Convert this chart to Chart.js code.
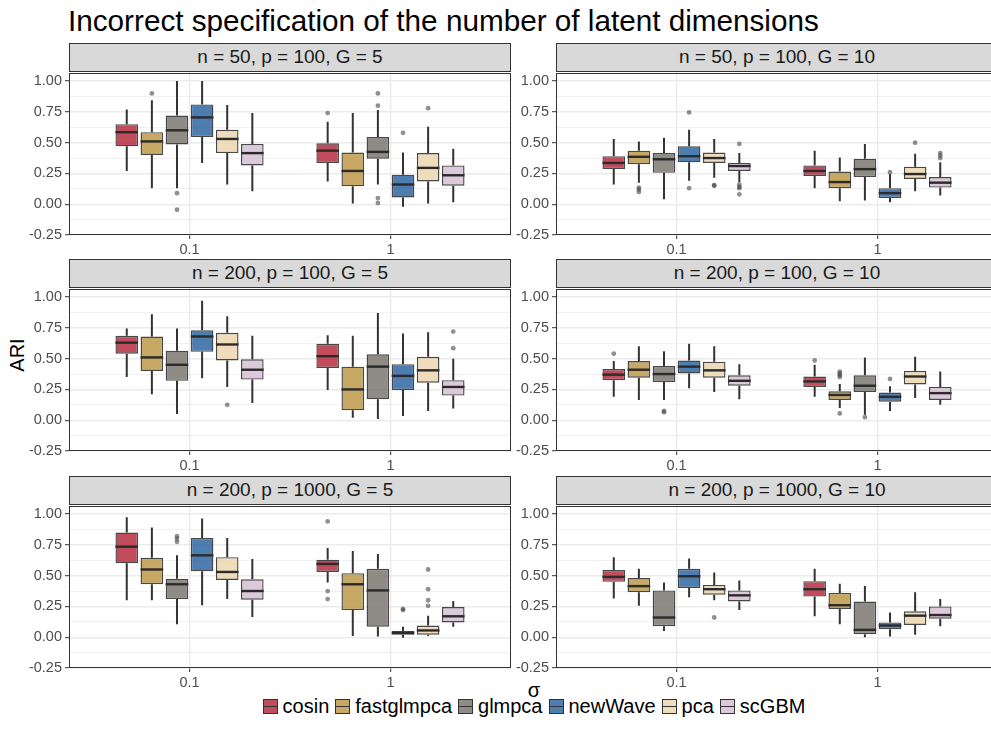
<!DOCTYPE html>
<html><head><meta charset="utf-8">
<script src="https://cdn.jsdelivr.net/npm/chart.js@4.4.0/dist/chart.umd.min.js"></script>
<style>
html,body{margin:0;padding:0;background:#fff;overflow:hidden;width:991px;height:745px;}
body{position:relative;font-family:"Liberation Sans",Arial,Helvetica,sans-serif;}
.strip{position:absolute;background:#D9D9D9;border:1px solid #333;box-sizing:border-box;text-align:center;font-size:19px;color:#1A1A1A;line-height:26px;white-space:nowrap;}
canvas{position:absolute;}
#title{position:absolute;left:68px;top:4px;font-size:29.7px;color:#000;white-space:nowrap;}
#ylab{position:absolute;left:17px;top:355px;transform:translate(-50%,-50%) rotate(-90deg);font-size:20px;color:#000;}
#xlab{position:absolute;left:534px;top:690px;transform:translate(-50%,-50%);font-size:20px;color:#000;}
#legend{position:absolute;left:68px;width:932px;top:694px;height:24px;display:flex;justify-content:center;align-items:center;font-size:20px;color:#000;}
.item{display:flex;align-items:center;margin:0 3px;}
.key{position:relative;width:15px;height:15px;border:1px solid #333;box-sizing:border-box;margin-right:5px;}
.key::after{content:"";position:absolute;left:0;right:0;top:6px;height:1.5px;background:#333;}
</style></head><body>
<div id="title">Incorrect specification of the number of latent dimensions</div>
<div id="ylab">ARI</div>
<div id="xlab">σ</div>
<div id="legend"></div>
<script>
const methods = ['cosin','fastglmpca','glmpca','newWave','pca','scGBM'];
const methodColors = ['rgba(184,52,70,0.88)','rgba(192,156,80,0.88)','rgba(127,123,116,0.88)','rgba(54,107,165,0.88)','rgba(236,215,177,0.88)','rgba(215,194,215,0.88)'];
const sigmaLabels = ['0.1','1'];
const sigmaPositions = [1, 2];
const yMajorTicks = [-0.25, 0, 0.25, 0.5, 0.75, 1.0];
const yMinorTicks = [-0.125, 0.125, 0.375, 0.625, 0.875];
const stripLabels = ['n = 50, p = 100, G = 5','n = 50, p = 100, G = 10','n = 200, p = 100, G = 5','n = 200, p = 100, G = 10','n = 200, p = 1000, G = 5','n = 200, p = 1000, G = 10'];

// box stats per method: [lower whisker, Q1, median, Q3, upper whisker]; first block σ = 0.1, second σ = 1
const box_n50_p100_G5 = [
  [[0.27,0.47,0.585,0.65,0.77],[0.13,0.40,0.51,0.585,0.845],[0.13,0.485,0.60,0.72,1.0],[0.335,0.545,0.705,0.81,1.0],[0.16,0.415,0.53,0.605,0.805],[0.105,0.315,0.415,0.49,0.74]],
  [[0.185,0.335,0.435,0.495,0.67],[0.005,0.145,0.27,0.42,0.74],[0.16,0.37,0.425,0.545,0.765],[-0.02,0.055,0.16,0.24,0.42],[0.005,0.185,0.295,0.415,0.63],[0.015,0.15,0.235,0.315,0.45]]
];
const out_n50_p100_G5 = [
  [[],[0.90],[0.09,-0.045],[],[],[]],
  [[0.74],[],[0.90,0.80,0.05,0.01],[0.58],[0.78],[]]
];
const box_n50_p100_G10 = [
  [[0.16,0.285,0.335,0.39,0.53],[0.175,0.325,0.385,0.435,0.51],[0.04,0.255,0.365,0.415,0.54],[0.19,0.34,0.39,0.47,0.605],[0.215,0.335,0.375,0.42,0.53],[0.18,0.27,0.31,0.335,0.415]],
  [[0.13,0.23,0.27,0.315,0.435],[0.025,0.13,0.18,0.265,0.38],[0.03,0.22,0.285,0.37,0.49],[0.015,0.05,0.09,0.13,0.245],[0.105,0.205,0.245,0.305,0.41],[0.07,0.135,0.175,0.22,0.34]]
];
const out_n50_p100_G10 = [
  [[],[0.135,0.12,0.10],[],[0.745,0.13],[0.155,0.15],[0.49,0.16,0.14,0.13,0.08]],
  [[],[],[],[0.26],[0.50],[0.415,0.395,0.375]]
];
const box_n200_p100_G5 = [
  [[0.35,0.54,0.63,0.685,0.745],[0.21,0.40,0.51,0.68,0.86],[0.05,0.32,0.45,0.565,0.745],[0.34,0.555,0.68,0.73,0.97],[0.27,0.485,0.615,0.71,0.845],[0.14,0.33,0.41,0.495,0.685]],
  [[0.245,0.425,0.52,0.62,0.69],[0.02,0.08,0.25,0.435,0.685],[0.01,0.17,0.435,0.535,0.87],[0.035,0.245,0.36,0.455,0.705],[0.075,0.305,0.405,0.515,0.715],[0.095,0.20,0.27,0.325,0.50]]
];
const out_n200_p100_G5 = [
  [[],[],[],[],[0.125],[]],
  [[],[],[],[],[],[0.72,0.585]]
];
const box_n200_p100_G10 = [
  [[0.19,0.325,0.37,0.415,0.48],[0.165,0.345,0.41,0.48,0.60],[0.165,0.31,0.375,0.44,0.56],[0.26,0.38,0.435,0.485,0.62],[0.23,0.345,0.405,0.475,0.60],[0.17,0.28,0.32,0.365,0.455]],
  [[0.19,0.27,0.315,0.355,0.45],[0.10,0.165,0.205,0.235,0.295],[0.045,0.23,0.28,0.365,0.51],[0.075,0.15,0.19,0.225,0.275],[0.18,0.29,0.355,0.40,0.515],[0.125,0.165,0.22,0.27,0.395]]
];
const out_n200_p100_G10 = [
  [[0.54],[],[0.075,0.065],[],[],[]],
  [[0.485],[0.395,0.38,0.365,0.35,0.055],[0.025],[0.335],[],[]]
];
const box_n200_p1000_G5 = [
  [[0.30,0.60,0.735,0.85,0.975],[0.30,0.43,0.55,0.645,0.89],[0.105,0.31,0.43,0.475,0.665],[0.26,0.535,0.665,0.805,0.965],[0.31,0.465,0.53,0.65,0.805],[0.165,0.305,0.375,0.47,0.635]],
  [[0.445,0.53,0.595,0.63,0.725],[0.01,0.22,0.43,0.52,0.70],[0.005,0.085,0.38,0.555,0.675],[-0.005,0.02,0.035,0.05,0.085],[0.01,0.02,0.055,0.095,0.175],[0.085,0.12,0.17,0.245,0.295]]
];
const out_n200_p1000_G5 = [
  [[],[],[0.82,0.80,0.775],[],[],[]],
  [[0.94,0.375,0.31],[],[],[0.23,0.22],[0.55,0.39,0.30,0.255],[]]
];
const box_n200_p1000_G10 = [
  [[0.315,0.45,0.49,0.545,0.65],[0.255,0.365,0.415,0.48,0.555],[0.05,0.09,0.16,0.38,0.445],[0.325,0.40,0.495,0.555,0.64],[0.30,0.345,0.39,0.425,0.525],[0.22,0.29,0.34,0.38,0.46]],
  [[0.17,0.33,0.39,0.455,0.555],[0.105,0.23,0.26,0.36,0.435],[0.0,0.025,0.06,0.29,0.415],[0.005,0.065,0.095,0.12,0.20],[0.02,0.10,0.175,0.21,0.365],[0.09,0.15,0.18,0.25,0.31]]
];
const out_n200_p1000_G10 = [
  [[],[],[],[],[0.16],[]],
  [[],[],[],[],[],[]]
];

const panelBoxes = [box_n50_p100_G5, box_n50_p100_G10, box_n200_p100_G5, box_n200_p100_G10, box_n200_p1000_G5, box_n200_p1000_G10];
const panelOutliers = [out_n50_p100_G5, out_n50_p100_G10, out_n200_p100_G5, out_n200_p100_G10, out_n200_p1000_G5, out_n200_p1000_G10];

const FONT = '"Liberation Sans", Arial, Helvetica, sans-serif';
Chart.defaults.font.family = FONT;

const colLefts = [69, 556];
const rowTops = [71, 287, 504];
const PW = 442, PH = 164, YW = 50, XH = 24, PADT = 10;
const allYTicks = yMajorTicks.concat(yMinorTicks).sort((a,b)=>a-b);
const isMajor = v => yMajorTicks.some(t => Math.abs(t - v) < 1e-9);
const isSigma = v => sigmaPositions.some(t => Math.abs(t - v) < 1e-9);

const boxPlugin = {
  id: 'boxExtras',
  beforeDatasetsDraw(chart) {
    const ctx = chart.ctx, ys = chart.scales.y;
    ctx.save();
    ctx.strokeStyle = '#333333'; ctx.lineWidth = 2;
    chart.data.datasets.forEach((ds, di) => {
      const meta = chart.getDatasetMeta(di);
      meta.data.forEach((el, j) => {
        const s = ds.stats[j];
        ctx.beginPath();
        ctx.moveTo(el.x, ys.getPixelForValue(s[0])); ctx.lineTo(el.x, ys.getPixelForValue(s[1]));
        ctx.moveTo(el.x, ys.getPixelForValue(s[3])); ctx.lineTo(el.x, ys.getPixelForValue(s[4]));
        ctx.stroke();
      });
    });
    ctx.restore();
  },
  afterDatasetsDraw(chart) {
    const ctx = chart.ctx, ys = chart.scales.y;
    ctx.save();
    chart.data.datasets.forEach((ds, di) => {
      const meta = chart.getDatasetMeta(di);
      meta.data.forEach((el, j) => {
        const s = ds.stats[j];
        const y = ys.getPixelForValue(s[2]);
        ctx.strokeStyle = '#2b2b2b'; ctx.lineWidth = 2.4;
        ctx.beginPath(); ctx.moveTo(el.x - el.width/2, y); ctx.lineTo(el.x + el.width/2, y); ctx.stroke();
        ctx.fillStyle = 'rgba(70,70,70,0.6)';
        ds.outliers[j].forEach(v => {
          ctx.beginPath(); ctx.arc(el.x, ys.getPixelForValue(v), 2.4, 0, Math.PI*2); ctx.fill();
        });
      });
    });
    ctx.restore();
  },
  afterDraw(chart) {
    const a = chart.chartArea, ctx = chart.ctx;
    ctx.save();
    ctx.strokeStyle = '#333333'; ctx.lineWidth = 1;
    ctx.strokeRect(Math.round(a.left)+0.5, Math.round(a.top)+0.5, Math.round(a.right-a.left)-1, Math.round(a.bottom-a.top)-1);
    ctx.restore();
  }
};

function makePanel(p) {
  const col = p % 2, row = Math.floor(p / 2);
  const left = colLefts[col], top = rowTops[row];
  const strip = document.createElement('div');
  strip.className = 'strip';
  strip.style.left = left + 'px'; strip.style.top = (top - 28) + 'px';
  strip.style.width = PW + 'px'; strip.style.height = '29px';
  strip.textContent = stripLabels[p];
  document.body.appendChild(strip);

  const cv = document.createElement('canvas');
  cv.width = YW + PW; cv.height = PADT + PH + XH;
  cv.style.left = (left - YW) + 'px'; cv.style.top = (top - PADT) + 'px';
  document.body.appendChild(cv);

  const boxes = panelBoxes[p], outs = panelOutliers[p];
  const datasets = methods.map((m, mi) => ({
    label: m,
    data: sigmaPositions.map((x, si) => ({x: x, y: [boxes[si][mi][1], boxes[si][mi][3]]})),
    stats: sigmaPositions.map((x, si) => boxes[si][mi]),
    outliers: sigmaPositions.map((x, si) => outs[si][mi]),
    backgroundColor: methodColors[mi],
    borderColor: 'rgba(40,40,40,0.85)',
    borderWidth: 1.4,
    borderSkipped: false
  }));

  new Chart(cv, {
    type: 'bar',
    data: { datasets },
    options: {
      responsive: false, animation: false,
      layout: { padding: { top: PADT, right: 0, left: 0, bottom: 0 } },
      plugins: { legend: { display: false }, tooltip: { enabled: false } },
      datasets: { bar: { categoryPercentage: 0.75, barPercentage: 0.9, grouped: true } },
      scales: {
        x: {
          type: 'linear', min: 0.4, max: 2.6, offset: false,
          afterBuildTicks: s => { s.ticks = sigmaPositions.map(v => ({value: v})); },
          afterFit: s => { s.height = XH; },
          ticks: { stepSize: 1, includeBounds: false,
                   callback: v => { const i = sigmaPositions.indexOf(v); return i >= 0 ? sigmaLabels[i] : ''; },
                   color: '#4D4D4D', font: { size: 14.5 }, padding: 2, autoSkip: false, maxRotation: 0 },
          grid: { offset: false,
                  color: c => (c.tick && isSigma(c.tick.value)) ? '#EBEBEB' : 'rgba(0,0,0,0)',
                  lineWidth: 1.4, tickLength: 4,
                  tickColor: c => (c.tick && isSigma(c.tick.value)) ? '#333333' : 'rgba(0,0,0,0)',
                  tickWidth: 1 },
          border: { display: false }
        },
        y: {
          type: 'linear', min: -0.25, max: 1.068,
          afterBuildTicks: s => { s.ticks = allYTicks.map(v => ({value: v})); },
          afterFit: s => { s.width = YW; },
          ticks: { callback: v => isMajor(v) ? v.toFixed(2) : '', color: '#4D4D4D', font: { size: 14.5 }, padding: 3, autoSkip: false },
          grid: {
            color: '#EBEBEB',
            lineWidth: c => (c.tick && isMajor(c.tick.value)) ? 1.4 : 0.7,
            tickLength: 4,
            tickColor: c => (c.tick && isMajor(c.tick.value)) ? '#333333' : 'rgba(0,0,0,0)',
            tickWidth: 1
          },
          border: { display: false }
        }
      }
    },
    plugins: [boxPlugin]
  });
}
for (let p = 0; p < 6; p++) makePanel(p);

const legend = document.getElementById('legend');
methods.forEach((m, i) => {
  const it = document.createElement('div'); it.className = 'item';
  const k = document.createElement('div'); k.className = 'key'; k.style.background = methodColors[i];
  const t = document.createElement('span'); t.textContent = m;
  it.appendChild(k); it.appendChild(t); legend.appendChild(it);
});
</script>
</body></html>
